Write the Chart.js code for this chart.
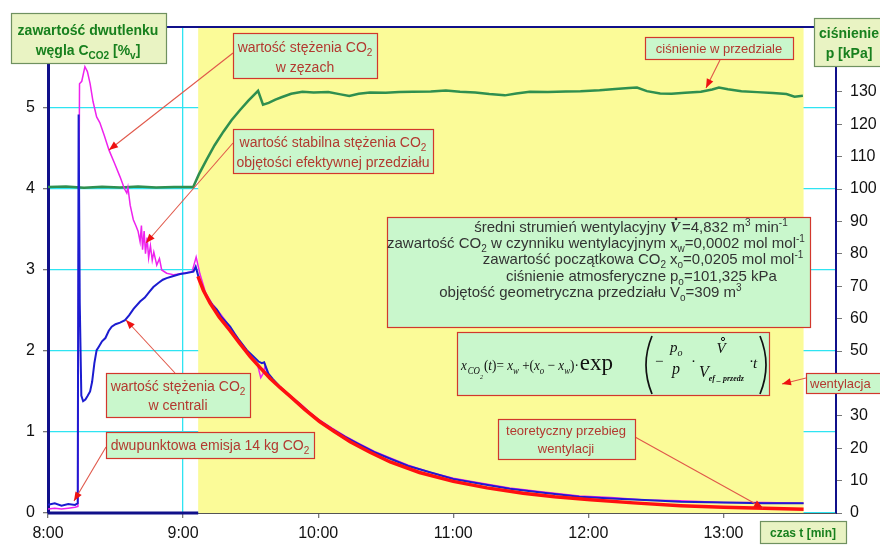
<!DOCTYPE html>
<html>
<head>
<meta charset="utf-8">
<script src="https://cdn.jsdelivr.net/npm/chart.js@4.4.1/dist/chart.umd.min.js"></script>
<style>
html,body{margin:0;background:#fff}
#wrap{width:880px;height:546px;position:relative}
</style>
</head>
<body>
<div id="wrap"><canvas id="c"></canvas></div>
<script>
// czas w minutach od 8:00
const hourLabels = ['8:00','9:00','10:00','11:00','12:00','13:00'];
const ventStart = 66.7, ventEnd = 335.6;

// [czas, CO2 %] - centrala
const central = [[0,0.10],[3,0.12],[6,0.09],[9,0.11],[12,0.10],[13.2,0.12],[13.6,4.92],[14.1,2.6],[14.8,1.45],[15.6,1.38],[16.6,1.40],[17.5,1.44],[18.7,1.50],[19.6,1.62],[20.6,1.85],[21.6,2.01],[22.5,2.05],[24,2.12],[25.5,2.16],[27,2.25],[28.3,2.30],[30,2.33],[32,2.35],[34.2,2.38],[36,2.44],[38,2.52],[40.9,2.61],[43,2.66],[45,2.73],[46.8,2.79],[49,2.84],[51,2.88],[52.7,2.90],[55,2.92],[58.7,2.95],[61,2.96],[64.6,2.98],[65.6,3.04],[67,2.90],[68.5,2.78],[70.5,2.67],[73,2.57],[75,2.51],[77,2.42],[80.9,2.30],[83,2.21],[85,2.13],[88.3,2.01],[91,1.94],[93.5,1.87],[95,1.85],[96,1.86],[97.9,1.72],[100,1.65],[104,1.53],[108,1.43],[112,1.34],[116,1.24],[120,1.15],[126,1.04],[132,0.94],[138,0.85],[145,0.75],[152,0.67],[160,0.58],[170,0.50],[180,0.42],[192,0.36],[205,0.30],[220,0.25],[236,0.20],[250,0.18],[265,0.16],[281,0.14],[300,0.13],[318,0.12],[335.6,0.12]];

// [czas, CO2 %] - zęzy
const bilge = [[0,0.05],[3,0.06],[6,0.05],[9,0.06],[12,0.07],[13.3,0.08],[13.6,3.1],[14,5.3],[15,5.33],[16.4,5.51],[17.5,5.45],[18.7,5.30],[20,5.08],[21.6,4.89],[23,4.82],[25,4.66],[27.1,4.48],[29.5,4.32],[32,4.15],[34,4.0],[35,3.95],[35.5,4.02],[36.5,3.80],[37.9,3.62],[39,3.55],[40,3.48],[40.9,3.35],[41.5,3.55],[42,3.25],[42.7,3.48],[43.3,3.2],[44,3.40],[44.7,3.15],[45.5,3.30],[46.3,3.12],[47,3.22],[48.3,3.06],[49.5,3.14],[50.5,3.0],[52.7,2.96],[56,2.94],[60,2.96],[64,2.98],[65.8,3.16],[67.5,2.95],[70,2.72],[73,2.58],[76,2.48],[80,2.33],[85,2.13],[90,1.95],[93,1.84],[94.5,1.67],[95.5,1.72],[96.5,1.82],[97.5,1.70],[100,1.64],[104,1.54],[108,1.44],[112,1.35],[116,1.25],[120,1.16],[126,1.05],[132,0.95],[138,0.86],[145,0.76],[152,0.68],[160,0.59],[170,0.50],[180,0.43],[192,0.37],[205,0.31],[220,0.26],[236,0.21],[250,0.19],[265,0.16],[281,0.15],[300,0.13],[318,0.13],[335.6,0.12]];

// [czas, kPa] - ciśnienie w przedziale
const pressure = [[0,100.6],[8,100.8],[16,100.4],[24,100.7],[32,100.5],[40,100.8],[48,100.5],[56,100.6],[64.5,100.6],[67,104.5],[70.4,109],[74,113.5],[77.9,117.7],[81.5,121.2],[85.3,124.4],[89,127.3],[93.3,130.3],[95.5,126.0],[98,126.6],[101,127.6],[104,128.4],[108,129.4],[113,130.0],[118,129.8],[124.5,129.9],[130,129.2],[133.8,128.7],[138,129.4],[143,129.8],[150,129.7],[156,129.9],[162,130.0],[170,130.1],[176.7,130.4],[183,130.0],[189.8,129.8],[196,129.3],[202.9,128.9],[208,129.5],[214,130.0],[222,129.9],[230,130.1],[236.5,130.2],[245,130.5],[252,130.9],[258,131.2],[261.6,131.3],[266,130.2],[271.9,129.5],[277,129.4],[283,129.7],[290,130.0],[295,130.7],[298,131.3],[302,130.8],[308,130.2],[315,129.9],[322,129.6],[328,129.3],[331.6,128.5],[335.3,128.8]];

// [czas, CO2 %] - teoretyczny przebieg wentylacji
const theory = [[66.6,2.92],[69,2.75],[72,2.59],[76,2.42],[80.9,2.25],[85,2.10],[89.8,1.93],[94,1.80],[98.7,1.66],[103,1.55],[107.6,1.44],[114,1.28],[120.6,1.13],[127,1.01],[134.2,0.88],[143,0.75],[152,0.63],[165,0.50],[180,0.39],[195,0.31],[211,0.245],[225,0.20],[241,0.165],[260,0.125],[281,0.09],[300,0.07],[318,0.058],[335.6,0.045]];

const SANS = "Arial, 'Liberation Sans', sans-serif";
const SERIF = "'Liberation Serif', 'Times New Roman', serif";
const navy = '#10108a';
const cyan = '#2ee4f2';
const annoText = '#b3392f';
const annoFill = '#c9f7cc';
const annoLine = '#d2372c';

const pts = arr => arr.map(p => ({x: p[0], y: p[1]}));

// tekst z indeksami: czesci [tekst, 'b'|'p'|'' ]
function rich(ctx, x, y, parts, o) {
  const size = o.size, fam = o.family || SANS, pre = (o.weight || '') + ' ' + (o.style || '') + ' ';
  const subSize = o.sub || Math.round(size*0.68);
  const fontFor = m => pre + (m ? subSize : size) + 'px ' + fam;
  let w = 0;
  parts.forEach(p => { ctx.font = fontFor(p[1]); w += ctx.measureText(p[0]).width; });
  let cx = o.align === 'center' ? x - w/2 : o.align === 'right' ? x - w : x;
  ctx.fillStyle = o.color;
  ctx.textAlign = 'left';
  ctx.textBaseline = 'alphabetic';
  parts.forEach(p => {
    ctx.font = fontFor(p[1]);
    const dy = p[1] === 'b' ? size*0.28 : p[1] === 'p' ? -size*0.42 : 0;
    if (!o.dry) ctx.fillText(p[0], cx, y + dy);
    cx += ctx.measureText(p[0]).width;
  });
  return cx;
}

function box(ctx, x, y, w, h, fill, stroke, lw) {
  ctx.fillStyle = fill;
  ctx.fillRect(x, y, w, h);
  ctx.strokeStyle = stroke;
  ctx.lineWidth = lw || 1.2;
  ctx.strokeRect(x + 0.5, y + 0.5, w, h);
}

function arrow(ctx, x1, y1, x2, y2) {
  ctx.strokeStyle = '#e0584a';
  ctx.lineWidth = 1.1;
  ctx.beginPath(); ctx.moveTo(x1, y1); ctx.lineTo(x2, y2); ctx.stroke();
  const a = Math.atan2(y2 - y1, x2 - x1), L = 9, W = 3.6;
  ctx.fillStyle = '#ee1111';
  ctx.beginPath();
  ctx.moveTo(x2, y2);
  ctx.lineTo(x2 - L*Math.cos(a) + W*Math.sin(a), y2 - L*Math.sin(a) - W*Math.cos(a));
  ctx.lineTo(x2 - L*Math.cos(a) - W*Math.sin(a), y2 - L*Math.sin(a) + W*Math.cos(a));
  ctx.closePath(); ctx.fill();
}

function paren(ctx, x, top, bot, dir) {
  ctx.strokeStyle = '#111';
  ctx.lineWidth = 1.7;
  ctx.beginPath();
  ctx.moveTo(x, top);
  ctx.quadraticCurveTo(x - dir*12, (top + bot)/2, x, bot);
  ctx.stroke();
}

function formulaPrefix(ctx, x0, base, dry) {
  const c = '#111';
  const it = {size: 15, family: SERIF, style: 'italic', color: c, sub: 10, dry: dry};
  const up = {size: 15, family: SERIF, color: c, dry: dry};
  let x = x0;
  x = rich(ctx, x, base, [['x','']], it);
  x = rich(ctx, x + 1, base, [['CO','b']], it);
  x = rich(ctx, x, base + 6, [['2','b']], {size: 10, family: SERIF, style: 'italic', color: c, dry: dry});
  x = rich(ctx, x + 1, base, [['(','']], up);
  x = rich(ctx, x, base, [['t','']], it);
  x = rich(ctx, x, base, [[')= ','']], up);
  x = rich(ctx, x, base, [['x',''],['w','b']], it);
  x = rich(ctx, x, base, [[' +(','']], up);
  x = rich(ctx, x, base, [['x',''],['o','b']], it);
  x = rich(ctx, x, base, [[' \u2212 ','']], up);
  x = rich(ctx, x, base, [['x',''],['w','b']], it);
  x = rich(ctx, x, base, [[')\u00b7','']], up);
  return x - x0;
}

function formula(ctx) {
  const base = 370, c = '#111';
  const up = {size: 15, family: SERIF, color: c};
  const w = formulaPrefix(ctx, 0, base, true);
  const sx = Math.max(0.88, Math.min(1, 117 / w));
  ctx.save();
  ctx.translate(461, 0);
  ctx.scale(sx, 1);
  formulaPrefix(ctx, 0, base, false);
  ctx.restore();
  rich(ctx, 461 + w*sx + 1, base, [['exp','']], {size: 23, family: SERIF, color: c});
  paren(ctx, 652, 336, 394, 1);
  rich(ctx, 655, 366, [['\u2212','']], up);
  // p_o / p
  rich(ctx, 670, 352, [['p',''],['o','b']], {size: 15, family: SERIF, style: 'italic', color: c, sub: 10});
  rich(ctx, 676, 374, [['p','']], {size: 16, family: SERIF, style: 'italic', color: c, align: 'center'});
  rich(ctx, 691, 366, [['\u00b7','']], up);
  // V dot / V_ef_przedz
  rich(ctx, 721, 353, [['V','']], {size: 15, family: SERIF, style: 'italic', color: c, align: 'center'});
  ctx.beginPath(); ctx.arc(723, 339, 1.6, 0, Math.PI*2); ctx.strokeStyle = c; ctx.lineWidth = 1; ctx.stroke();
  const vx = rich(ctx, 699, 377, [['V','']], {size: 16, family: SERIF, style: 'italic', color: c});
  rich(ctx, vx, 381, [['ef _ przedz','']], {size: 8, family: SERIF, style: 'italic', weight: 'bold', color: c});
  rich(ctx, 749, 366, [['\u00b7','']], up);
  rich(ctx, 753, 368, [['t','']], {size: 15, family: SERIF, style: 'italic', color: c});
  paren(ctx, 760, 336, 394, -1);
}

const decor = {
  id: 'decor',
  beforeDatasetsDraw(chart) {
    const {ctx, chartArea: a, scales: {x}} = chart;
    const x0 = x.getPixelForValue(ventStart), x1 = x.getPixelForValue(ventEnd);
    ctx.save();
    ctx.fillStyle = '#fbfb98';
    ctx.fillRect(x0, a.top + 1, x1 - x0, a.bottom - a.top - 1);
    ctx.strokeStyle = '#555';
    ctx.lineWidth = 1;
    ctx.beginPath(); ctx.moveTo(a.left, a.bottom + 0.5); ctx.lineTo(a.right, a.bottom + 0.5); ctx.stroke();
    ctx.strokeStyle = navy;
    ctx.lineWidth = 3;
    ctx.beginPath(); ctx.moveTo(a.left, a.bottom); ctx.lineTo(x0, a.bottom); ctx.stroke();
    ctx.lineWidth = 2;
    ctx.beginPath(); ctx.moveTo(a.left, a.top); ctx.lineTo(a.right, a.top); ctx.stroke();
    ctx.restore();
  },
  afterDraw(chart) {
    const ctx = chart.ctx;
    ctx.save();
    const t14 = {size: 14, color: annoText, align: 'center'};
    const t13 = {size: 13, color: annoText, align: 'center'};

    // opisy osi
    const tf = '#e9f3c3', tb = '#6f9160', tc = '#18801e';
    box(ctx, 11, 13, 155, 50, tf, tb);
    rich(ctx, 88, 35, [['zawartość dwutlenku','']], {size: 14, weight: 'bold', color: tc, align: 'center'});
    rich(ctx, 88, 55, [['węgla C',''],['CO2','b'],[' [%',''],['v','b'],[']','']], {size: 14, weight: 'bold', color: tc, align: 'center'});
    box(ctx, 814, 18, 70, 48, tf, tb);
    rich(ctx, 849, 38, [['ciśnienie','']], {size: 14, weight: 'bold', color: tc, align: 'center'});
    rich(ctx, 849, 58, [['p [kPa]','']], {size: 14, weight: 'bold', color: tc, align: 'center'});
    box(ctx, 760, 521, 86, 22, tf, tb);
    rich(ctx, 803, 537, [['czas t [min]','']], {size: 12, weight: 'bold', color: tc, align: 'center'});

    // strzalki
    arrow(ctx, 233, 53, 109, 150);
    arrow(ctx, 233, 143, 146, 243);
    arrow(ctx, 175, 373, 126, 320);
    arrow(ctx, 106, 447, 74, 501);
    arrow(ctx, 720, 60, 706, 88);
    arrow(ctx, 806, 378, 782, 384);
    arrow(ctx, 635, 437, 763, 508);

    // ramki opisow
    box(ctx, 233, 33, 144, 45, annoFill, annoLine);
    rich(ctx, 305, 52, [['wartość stężenia CO',''],['2','b']], t14);
    rich(ctx, 305, 72, [['w zęzach','']], t14);

    box(ctx, 233, 129, 200, 44, annoFill, annoLine);
    rich(ctx, 333, 147, [['wartość stabilna stężenia CO',''],['2','b']], t14);
    rich(ctx, 333, 167, [['objętości efektywnej przedziału','']], t14);

    box(ctx, 106, 373, 144, 44, annoFill, annoLine);
    rich(ctx, 178, 391, [['wartość stężenia CO',''],['2','b']], t14);
    rich(ctx, 178, 410, [['w centrali','']], t14);

    box(ctx, 106, 432, 208, 26, annoFill, annoLine);
    rich(ctx, 210, 450, [['dwupunktowa emisja 14 kg CO',''],['2','b']], t14);

    box(ctx, 645, 37, 148, 22, annoFill, annoLine);
    rich(ctx, 719, 53, [['ciśnienie w przedziale','']], t13);

    box(ctx, 806, 373, 80, 20, annoFill, annoLine);
    rich(ctx, 810, 388, [['wentylacja','']], {size: 13, color: annoText});

    box(ctx, 498, 419, 137, 40, annoFill, annoLine);
    rich(ctx, 566, 435, [['teoretyczny przebieg','']], t13);
    rich(ctx, 566, 453, [['wentylacji','']], t13);

    // parametry
    box(ctx, 387, 217, 423, 110, annoFill, annoLine);
    const lt = {size: 15, color: '#333', align: 'right'};
    const vt = {size: 15, color: '#333'};
    const L = 666, V = 670, ys = [232, 248, 264, 281, 297];
    rich(ctx, L, ys[0], [['średni strumień wentylacyjny','']], lt);
    rich(ctx, L, ys[1], [['zawartość CO',''],['2','b'],[' w czynniku wentylacyjnym','']], lt);
    rich(ctx, L, ys[2], [['zawartość początkowa CO',''],['2','b']], lt);
    rich(ctx, L, ys[3], [['ciśnienie atmosferyczne','']], lt);
    rich(ctx, L, ys[4], [['objętość geometryczna przedziału','']], lt);
    let vx = rich(ctx, V, ys[0], [['V','']], {size: 15, family: SERIF, weight: 'bold', style: 'italic', color: '#333'});
    ctx.beginPath(); ctx.arc(V + 6, ys[0] - 13, 1.3, 0, Math.PI*2); ctx.fillStyle = '#333'; ctx.fill();
    rich(ctx, vx + 2, ys[0], [['=4,832 m',''],['3','p'],[' min',''],['-1','p']], vt);
    rich(ctx, V, ys[1], [['x',''],['w','b'],['=0,0002 mol mol',''],['-1','p']], vt);
    rich(ctx, V, ys[2], [['x',''],['o','b'],['=0,0205 mol mol',''],['-1','p']], vt);
    rich(ctx, V, ys[3], [['p',''],['o','b'],['=101,325 kPa','']], vt);
    rich(ctx, V, ys[4], [['V',''],['o','b'],['=309 m',''],['3','p']], vt);

    box(ctx, 457, 332, 312, 63, annoFill, annoLine);
    formula(ctx);
    ctx.restore();
  }
};

const line = (data, color, width, axis, order) => ({
  data: pts(data), borderColor: color, borderWidth: width, pointRadius: 0,
  fill: false, tension: 0, yAxisID: axis, order: order
});

new Chart(document.getElementById('c'), {
  type: 'line',
  data: {
    datasets: [
      line(theory, '#ff1010', 3.5, 'y', 0),
      line(central, '#1c1cd0', 2, 'y', 1),
      line(bilge, '#ee22ee', 1.5, 'y', 2),
      line(pressure, '#2f8f4f', 2.5, 'y2', 3)
    ]
  },
  options: {
    responsive: true,
    maintainAspectRatio: false,
    animation: false,
    layout: {padding: {top: 27, left: 0, right: 0, bottom: 0}},
    plugins: {legend: {display: false}, tooltip: {enabled: false}},
    scales: {
      x: {
        type: 'linear', min: 0, max: 350,
        afterFit: s => { s.height = 33; },
        grid: {color: cyan, lineWidth: 1.3, tickColor: '#777', tickLength: 5},
        border: {display: false},
        ticks: {
          stepSize: 60, includeBounds: false, padding: 6, color: '#111', maxRotation: 0,
          font: {family: SANS, size: 16},
          callback: v => hourLabels[v/60] || ''
        }
      },
      y: {
        position: 'left', min: 0, max: 6,
        afterFit: s => { s.width = 48; },
        grid: {color: cyan, lineWidth: 1.3, tickColor: '#777', tickLength: 5},
        border: {color: navy, width: 3},
        ticks: {stepSize: 1, padding: 8, color: '#111', font: {family: SANS, size: 16},
          callback: v => v <= 5 ? v : ''}
      },
      y2: {
        position: 'right', min: 0, max: 150,
        afterFit: s => { s.width = 44; },
        grid: {drawOnChartArea: false, tickColor: '#777', tickLength: 6},
        border: {color: navy, width: 2},
        ticks: {stepSize: 10, padding: 8, color: '#111', font: {family: SANS, size: 16},
          callback: v => v <= 130 ? v : ''}
      }
    }
  },
  plugins: [decor]
});
</script>
</body>
</html>
